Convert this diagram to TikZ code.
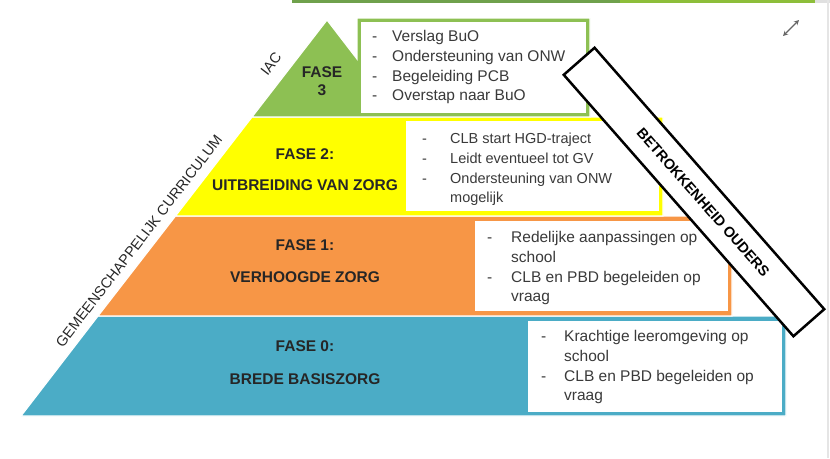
\documentclass[tikz,border=0pt]{standalone}
\usepackage{fontspec}
\setmainfont{Liberation Sans}
\usetikzlibrary{arrows.meta}

\definecolor{fasegroen}{HTML}{8DC053}
\definecolor{fasegeel}{HTML}{FFFF00}
\definecolor{faseoranje}{HTML}{F79646}
\definecolor{faseblauw}{HTML}{4BACC6}
\definecolor{balkdonker}{HTML}{6FA14C}
\definecolor{balklicht}{HTML}{8DBE3A}
\definecolor{tekst}{HTML}{262626}
\definecolor{grijs}{HTML}{3A3A3A}

\begin{document}
\begin{tikzpicture}[x=1pt,y=-1pt,
  laag/.style={draw=white,line width=1.2pt},
  wit/.style={fill=white,inner sep=0pt,outer sep=0pt,anchor=north west},
  fase/.style={font=\fontsize{15.5}{18}\selectfont\bfseries,text=tekst,align=center},
  lijst/.style={font=\fontsize{15.5}{19.6}\selectfont,text=grijs,inner sep=0pt,anchor=north west},
  ouderkader/.style={draw=black,line width=2.5pt,fill=white,minimum width=348,minimum height=41,
    rotate=-48.7,font=\fontsize{14.5}{16}\selectfont\bfseries},
  zijlabel/.style={font=\fontsize{14.5}{16}\selectfont,text=tekst,rotate=52.4}
]
\useasboundingbox (0,0) rectangle (830,458);

% balk bovenaan en rand
\fill[balkdonker] (292,0) rectangle (620,3);
\fill[balklicht] (620,0) rectangle (815,3);
\fill[black!12] (815,0) rectangle (830,3);
\draw[black!10,line width=1.5pt] (828,0) -- (828,458);

% lagen van de piramide
\path[laag,fill=faseblauw] (98,316) -- (786,316) -- (786,416) -- (21,416) -- cycle;
\path[laag,fill=faseoranje] (175.5,216) -- (732,216) -- (732,316) -- (98,316) -- cycle;
\path[laag,fill=fasegeel] (252,117) -- (663,117) -- (663,216) -- (175.5,216) -- cycle;
\path[laag,fill=fasegroen] (327,20) -- (357,59) -- (357,18) -- (590,18) -- (590,117) -- (252,117) -- cycle;

% witte kaders
\node[wit,minimum width=225,minimum height=91] (kader3) at (361,22) {};
\node[wit,minimum width=253,minimum height=90] (kader2) at (406,121) {};
\node[wit,minimum width=253,minimum height=90] (kader1) at (475,221) {};
\node[wit,minimum width=254,minimum height=91] (kader0) at (528,321) {};

% fasen
\node[fase] (fase3) at (322,81) {FASE\\3};
\node[fase] (fase2) at (305,169.5) {FASE 2:\\[13pt]UITBREIDING VAN ZORG};
\node[fase] (fase1) at (305,261) {FASE 1:\\[14pt]VERHOOGDE ZORG};
\node[fase] (fase0) at (305,362.5) {FASE 0:\\[15pt]BREDE BASISZORG};

% lijstjes
\node[lijst] (lijst3) at (372,28) {\begin{tabular}{@{}p{20pt}@{}l@{}}
-&Verslag BuO\\
-&Ondersteuning van ONW\\
-&Begeleiding PCB\\
-&Overstap naar BuO
\end{tabular}};
\node[lijst,font=\fontsize{14.5}{19.6}\selectfont] (lijst2) at (422,130) {\begin{tabular}{@{}p{28pt}@{}l@{}}
-&CLB start HGD-traject\\
-&Leidt eventueel tot GV\\
-&Ondersteuning van ONW\\
&mogelijk
\end{tabular}};
\node[lijst] (lijst1) at (487,229) {\begin{tabular}{@{}p{24pt}@{}l@{}}
-&Redelijke aanpassingen op\\
&school\\
-&CLB en PBD begeleiden op\\
&vraag
\end{tabular}};
\node[lijst] (lijst0) at (541,328) {\begin{tabular}{@{}p{23pt}@{}l@{}}
-&Krachtige leeromgeving op\\
&school\\
-&CLB en PBD begeleiden op\\
&vraag
\end{tabular}};

% zijkant
\node[zijlabel] (iac) at (271,64) {IAC};
\node[zijlabel] (curriculum) at (139,241) {GEMEENSCHAPPELIJK CURRICULUM};

% ouders
\node[ouderkader] (ouders) at (694,192) {\hspace*{28pt}BETROKKENHEID OUDERS};

% icoon
\coordinate (icoA) at (783,36);
\coordinate (icoB) at (799,20);
\draw[{Stealth[length=5pt,width=5pt]}-{Stealth[length=5pt,width=5pt]},black!60,line width=1.1pt] (icoA) -- (icoB);

\end{tikzpicture}
\end{document}
